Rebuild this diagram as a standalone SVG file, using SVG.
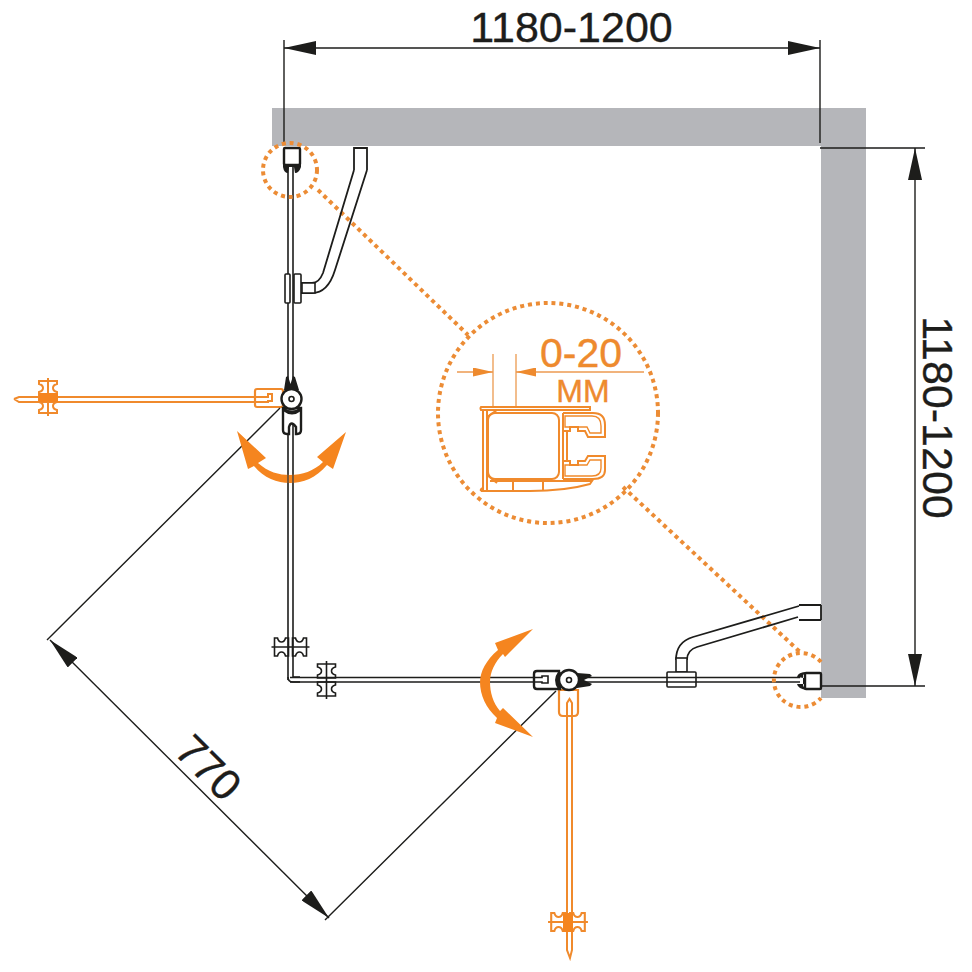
<svg xmlns="http://www.w3.org/2000/svg" width="972" height="972" viewBox="0 0 972 972">
<style>
.k{fill:none;stroke:#1d1d1b;stroke-width:1.6}
.kw{fill:#fff;stroke:#1d1d1b;stroke-width:1.6}
.kb{fill:#fff;stroke:#1d1d1b;stroke-width:2.4}
.ko{fill:#1d1d1b}
.o{fill:none;stroke:#f08a2c;stroke-width:2}
.ot{fill:none;stroke:#ec9a50;stroke-width:1.3}
.ow{fill:#fff;stroke:#f08a2c;stroke-width:2.2}
.of{fill:#f5851f}
.dot{fill:none;stroke:#ec8c35;stroke-width:4;stroke-dasharray:4 3.9}
.t{font-family:"Liberation Sans",Arial,sans-serif;fill:#1d1d1b;stroke:#1d1d1b;stroke-width:.35;font-size:43px;text-anchor:middle}
.to{font-family:"Liberation Sans",Arial,sans-serif;fill:#ee8a2e;stroke:#ee8a2e;stroke-width:.4;text-anchor:middle}
.dim{stroke:#1d1d1b;stroke-width:1.4;fill:none}
</style>
<defs>
<marker id="ah" markerUnits="userSpaceOnUse" markerWidth="32" markerHeight="14" refX="32" refY="7" orient="auto-start-reverse" viewBox="0 0 32 14"><path d="M0,0L32,7L0,14Z" fill="#1d1d1b"/></marker>
<marker id="aho" markerUnits="userSpaceOnUse" markerWidth="20" markerHeight="9" refX="20" refY="4.500" orient="auto" viewBox="0 0 20 9"><path d="M0,0L20,4.500L0,9Z" fill="#ee8a2e"/></marker>
<path id="knob" d="M-16,-9H-13Q-12,-5 -9,-5Q-6,-5 -5,-9H-2V9H-5Q-6,5 -9,5Q-12,5 -13,9H-16ZM16,-9H13Q12,-5 9,-5Q6,-5 5,-9H2V9H5Q6,5 9,5Q12,5 13,9H16ZM-19,0H19"/>
</defs>

<path id="wall" fill="#b5b6ba" d="M272,108H866V698H821V146H272Z"/>

<g id="door-open-left">
<path class="o" d="M14,399L19,397H260M14,399L19,402H260"/>
<rect class="ow" x="255" y="389" width="28" height="18" rx="2"/>
<path class="o" d="M255,397H268V394H272V401H268V402H255"/>
<use href="#knob" class="o" transform="translate(48,397) rotate(90)"/>
<rect class="of" x="39" y="393" width="19" height="9"/>
</g>

<g id="door-open-bottom">
<path class="o" d="M567,705V950L570,958L572,950V705"/>
<path class="ow" d="M559,690H578V712Q578,716 574,716H563Q559,716 559,712Z"/>
<path class="o" d="M567,716V703L569.500,699L572,703V716"/>
<use href="#knob" class="o" transform="translate(568,922) scale(1.05,1)"/>
<rect class="of" x="563" y="913" width="10" height="19"/>
</g>

<g id="connectors">
<path class="dim" d="M284,40V143M820,40V143"/>
<path class="dim" marker-start="url(#ah)" marker-end="url(#ah)" d="M284,48H820"/>
<path class="dim" d="M820,148H925M822,686H925"/>
<path class="dim" marker-start="url(#ah)" marker-end="url(#ah)" d="M915,148V686"/>
<path class="dim" d="M280,408L47,640M556,691L325,920"/>
<path class="dim" marker-start="url(#ah)" marker-end="url(#ah)" d="M50,640L329,918"/>
<path class="dot" d="M318,190L468,335M623,487L800,652"/>
</g>

<g id="glass-left">
<path class="k" d="M288,165V680M293,165V678"/>
<path class="k" d="M288,677Q288,682 293,682H300M293,677H300"/>
</g>
<g id="glass-bottom">
<path class="k" d="M290,677.500H800M290,682H800"/>
</g>

<g id="top-clamp">
<rect class="kb" x="284" y="148" width="16" height="17" rx="1"/>
<path class="ko" d="M283,160V167Q284,173 288,173L289,167H294L295,173Q299,173 301,167V160L298,165H286Z"/>
</g>

<g id="handle-top">
<path class="k" style="stroke-width:1.8" d="M354,147V170M367,147V170M354,148H367M354,170L323,273Q319,283 312,283H300M367,170L335,270Q328,293 312,293H300"/>
<path class="kw" d="M302,283H315V293H302Z"/>
<rect class="kw" x="285" y="274" width="5" height="29" rx="1"/>
<rect class="kw" x="294" y="274" width="7" height="29" rx="1"/>
</g>

<g id="handle-bottom">
<path class="k" style="stroke-width:1.8" d="M799,605H821M799,620H821M821,605V620M799,606L693,637Q676,642 676,660M798,617L697,647Q687,650 687,660"/>
<rect class="kw" x="676" y="658" width="11" height="14"/>
<rect class="kw" x="667" y="672" width="29" height="15" rx="1"/>
<path class="k" d="M667,677.500H696M667,682H696"/>
</g>

<g id="right-clamp">
<rect class="kb" x="805" y="673" width="16" height="16" rx="1"/>
<path class="ko" d="M807,672Q798,672 797,677L804,678V684L797,684Q798,689 807,690L803,686V675Z"/>
</g>

<g id="knob-a"><use href="#knob" class="k" transform="translate(290.500,647)"/></g>
<g id="knob-b"><use href="#knob" class="k" transform="translate(326.500,680) rotate(90)"/></g>

<g id="pivot-left">
<path class="ko" d="M284,390L286,377L288,376L290.500,384L293,376L295,377L299,390Z"/>
<path class="kb" d="M283,408H301V430Q301,434 297,434H296V427Q291,420 289,427V434H287Q283,434 283,430Z"/>
<path class="ko" d="M283,407Q292,414 301,407L301,411Q292,418 283,411Z"/>
<circle class="kb" cx="291.500" cy="399" r="10"/>
<circle class="k" cx="291.500" cy="399" r="2.500"/>
</g>

<g id="pivot-bottom">
<path class="kb" d="M559,671H537Q534,671 534,674V686Q534,689 537,689H557L560,689Z"/>
<path class="k" d="M534,677.500H542V676H548V683H542V682H534"/>
<path class="ko" d="M558,672Q552,680 558,689L561,689Q556,680 561,672Z"/>
<path class="ko" d="M577,673L590,674L592,676L584,680L592,684L590,686L577,688Z"/>
<circle class="kb" cx="569" cy="680" r="10"/>
<circle class="k" cx="569" cy="680" r="2.500"/>
</g>

<g id="swing-arrow-left">
<path class="of" d="M237,431L266,458L258,463C268,472 279,475 290,475C302,475 314,471 323,462L317,457L346,432L333,469L327,465C316,478 303,483 290,483C277,483 264,478 254,466L248,469Z"/>
<path class="k" style="stroke:#5a4a3a" d="M288,475V483M293,475V483"/>
</g>
<g id="swing-arrow-bottom">
<path class="of" d="M533,629L495,643L498,650C486,660 480,672 480,682C480,695 486,708 497,718L495,723L533,737L503,708L500,711C493,703 490,692 490,682C490,672 495,662 503,654L505,657Z"/>
</g>

<g id="callout-small-top"><circle class="dot" cx="290" cy="170" r="27"/></g>
<g id="callout-small-bottom"><path class="dot" d="M821,662A27,27 0 1 0 821,698"/></g>

<g id="callout-detail">
<circle class="dot" cx="548" cy="413" r="110"/>
<path class="ot" d="M493,354V407M516,354V407"/>
<path class="ot" marker-end="url(#aho)" d="M457,372H493"/>
<path class="ot" marker-end="url(#aho)" d="M644,372H516"/>
<text class="to" x="581" y="367" font-size="41">0-20</text>
<text class="to" x="583" y="402" font-size="32">MM</text>
<g id="profile" class="o">
<path d="M481,407H590V410H481Q480,408 481,407ZM483,410V491M487,410V490"/>
<rect x="488" y="413" width="71" height="66" rx="7"/>
<path d="M563,413H593Q605,413 605,425V437H588L585,431H578V427H570V431H563M563,479H593Q605,479 605,470V456H588L585,461H578V465H570V461H563M563,413V479M567,431V461"/>
<path stroke-width="1.4" d="M565,416H592Q601,416 601,426V433H590L587,427H565ZM565,476H592Q601,476 601,468V460H590L587,465H565Z"/>
<path d="M481,491H530Q565,491 590,484L592,481H490M481,491Q480,489 483,488M513,482V491M543,482V491"/>
<path d="M487,417L497,410M487,475L497,483"/>
</g>
</g>

<g id="labels">
<text class="t" x="571.500" y="42">1180-1200</text>
<text class="t" transform="translate(923,417.500) rotate(90)">1180-1200</text>
<text class="t" transform="translate(198,778) rotate(45)">770</text>
</g>
</svg>
